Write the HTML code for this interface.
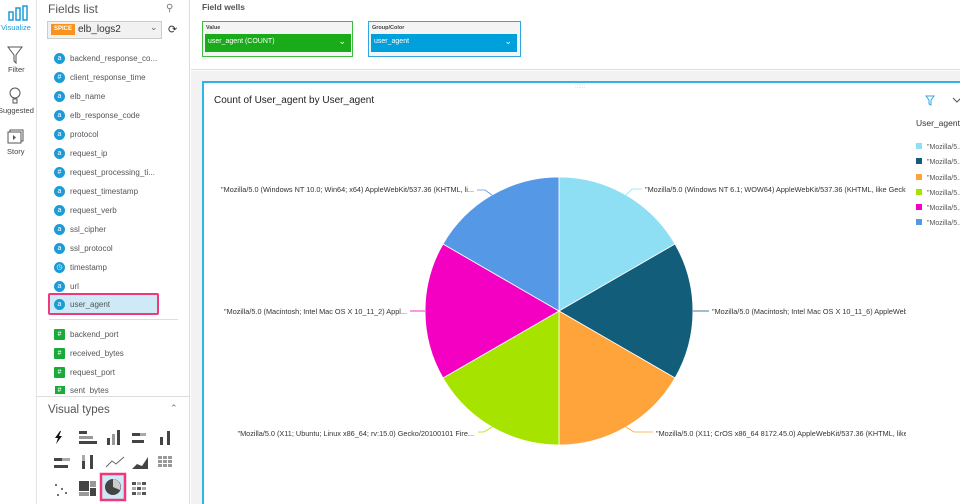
<!DOCTYPE html>
<html style="width:960px;height:504px;overflow:hidden"><head><meta charset="utf-8"><style>
*{margin:0;padding:0;box-sizing:border-box}
body{width:960px;height:504px;overflow:hidden;background:#fff;font-family:"Liberation Sans",sans-serif;position:relative;color:#333}
.abs{position:absolute}
.f{position:absolute;left:55px;width:120px;height:12px;font-size:8px;color:#555;white-space:nowrap}
.f i{position:absolute;left:-1px;top:-1px;width:11px;height:11px;border-radius:50%;background:#1d9bd7;color:#fff;font-size:7px;font-style:normal;text-align:center;line-height:11px}
.f span{position:absolute;left:15px;top:0}
.g i{border-radius:1px;background:#1aaa3a}
.lg div{white-space:nowrap;height:15.3px}
</style></head><body>
<div class="abs" style="left:0;top:0;width:37px;height:504px;background:#fff;border-right:1px solid #e3e3e3"></div>
<svg class="abs" style="left:8px;top:5px" width="20" height="16"><rect x="1" y="7" width="4" height="8" fill="none" stroke="#1d9bd7" stroke-width="1.5"/><rect x="8" y="3" width="4" height="12" fill="none" stroke="#1d9bd7" stroke-width="1.5"/><rect x="15" y="1" width="4" height="14" fill="none" stroke="#1d9bd7" stroke-width="1.5"/></svg>
<div class="abs" style="left:1px;top:23px;font-size:7.5px;color:#1d9bd7">Visualize</div>
<svg class="abs" style="left:7px;top:46px" width="16" height="18"><path d="M1 1 H15 L9 9 V17 L7 15 V9 Z" fill="none" stroke="#555"/></svg>
<div class="abs" style="left:8px;top:65px;font-size:7.5px;color:#444">Filter</div>
<svg class="abs" style="left:9px;top:87px" width="12" height="18"><circle cx="6" cy="6" r="5" fill="none" stroke="#555"/><rect x="4" y="12" width="4" height="4" fill="none" stroke="#555"/></svg>
<div class="abs" style="left:-2px;top:106px;font-size:7.5px;color:#444">Suggested</div>
<svg class="abs" style="left:7px;top:129px" width="18" height="15"><rect x="3" y="1" width="13" height="11" fill="none" stroke="#555"/><rect x="1" y="3" width="13" height="11" fill="#fff" stroke="#555"/><path d="M6 6 L9 8.5 L6 11Z" fill="#555"/></svg>
<div class="abs" style="left:7px;top:147px;font-size:7.5px;color:#444">Story</div>
<div class="abs" style="left:37px;top:0;width:153px;height:504px;background:#fff;border-right:1px solid #ddd"></div>
<div class="abs" style="left:48px;top:2px;font-size:12px;color:#555">Fields list</div>
<div class="abs" style="left:166px;top:3px;font-size:10px;color:#777">&#9906;</div>
<div class="abs" style="left:47px;top:21px;width:115px;height:18px;background:#f1f1f1;border:1px solid #ccc"></div>
<div class="abs" style="left:51px;top:24px;width:24px;height:11px;background:#f7931e;color:#fff;font-size:6px;font-weight:bold;text-align:center;line-height:11px">SPICE</div>
<div class="abs" style="left:78px;top:24px;font-size:10px;color:#333">elb_logs2</div>
<div class="abs" style="left:150px;top:22px;font-size:9px;color:#666">&#8964;</div>
<div class="abs" style="left:168px;top:23px;font-size:11px;color:#333">&#10227;</div>
<div class="f" style="top:54px"><i>a</i><span>backend_response_co...</span></div>
<div class="f" style="top:73px"><i>#</i><span>client_response_time</span></div>
<div class="f" style="top:92px"><i>a</i><span>elb_name</span></div>
<div class="f" style="top:111px"><i>a</i><span>elb_response_code</span></div>
<div class="f" style="top:130px"><i>a</i><span>protocol</span></div>
<div class="f" style="top:149px"><i>a</i><span>request_ip</span></div>
<div class="f" style="top:168px"><i>#</i><span>request_processing_ti...</span></div>
<div class="f" style="top:187px"><i>a</i><span>request_timestamp</span></div>
<div class="f" style="top:206px"><i>a</i><span>request_verb</span></div>
<div class="f" style="top:225px"><i>a</i><span>ssl_cipher</span></div>
<div class="f" style="top:244px"><i>a</i><span>ssl_protocol</span></div>
<div class="f" style="top:263px"><i>&#9719;</i><span>timestamp</span></div>
<div class="f" style="top:282px"><i>a</i><span>url</span></div>
<div class="abs" style="left:48px;top:293px;width:111px;height:22px;border:2px solid #f0397a;border-radius:2px;background:#cdeaf6"></div>
<div class="f" style="top:300px"><i>a</i><span>user_agent</span></div>
<div class="abs" style="left:49px;top:319px;width:129px;height:1px;background:#ddd"></div>
<div class="f g" style="top:330px"><i>#</i><span>backend_port</span></div>
<div class="f g" style="top:349px"><i>#</i><span>received_bytes</span></div>
<div class="f g" style="top:368px"><i>#</i><span>request_port</span></div>
<div class="f g" style="top:386px;height:8px;overflow:hidden"><i>#</i><span>sent_bytes</span></div>
<div class="abs" style="left:37px;top:396px;width:153px;height:1px;background:#ddd"></div>
<div class="abs" style="left:48px;top:404px;font-size:11.5px;color:#555">Visual types</div>
<div class="abs" style="left:170px;top:403px;font-size:9px;color:#777">&#8963;</div>
<svg class="abs" style="left:52px;top:427px" width="130" height="77">
<g fill="#444">
<path d="M8 4 L3 11 H6 L4 17 L10 9 H7 L9 4Z" fill="#111"/>
<rect x="27" y="4" width="8" height="3"/><rect x="27" y="9" width="14" height="3" fill="#999"/><rect x="27" y="14" width="18" height="3"/>
<rect x="55" y="11" width="3" height="7"/><rect x="60" y="7" width="3" height="11" fill="#999"/><rect x="65" y="3" width="3" height="15"/>
<rect x="80" y="6" width="8" height="3"/><rect x="80" y="13" width="12" height="3"/><rect x="88" y="6" width="6" height="3" fill="#aaa"/>
<rect x="108" y="10" width="3" height="8"/><rect x="115" y="4" width="3" height="14"/>
<rect x="2" y="31" width="8" height="3"/><rect x="2" y="38" width="14" height="3"/><rect x="10" y="31" width="8" height="3" fill="#aaa"/>
<rect x="30" y="28" width="3" height="14" fill="#aaa"/><rect x="30" y="34" width="3" height="8"/><rect x="38" y="28" width="3" height="14"/>
<path d="M54 40 L60 34 L64 37 L72 30" stroke="#666" fill="none"/>
<path d="M80 42 L85 37 L90 39 L96 30 L96 42Z"/>
<g fill="#999"><rect x="106" y="29" width="4" height="3"/><rect x="111" y="29" width="4" height="3"/><rect x="116" y="29" width="4" height="3"/><rect x="106" y="33" width="4" height="3"/><rect x="111" y="33" width="4" height="3"/><rect x="116" y="33" width="4" height="3"/><rect x="106" y="37" width="4" height="3"/><rect x="111" y="37" width="4" height="3"/><rect x="116" y="37" width="4" height="3"/></g>
<circle cx="4" cy="58" r="1"/><circle cx="10" cy="62" r="1"/><circle cx="6" cy="68" r="1"/><circle cx="14" cy="66" r="1"/>
<rect x="27" y="54" width="10" height="10"/><rect x="38" y="54" width="6" height="6" fill="#999"/><rect x="38" y="61" width="6" height="8"/><rect x="27" y="65" width="10" height="4" fill="#999"/>
<g fill="#555"><rect x="80" y="55" width="4" height="3"/><rect x="85" y="55" width="4" height="3" fill="#aaa"/><rect x="90" y="55" width="4" height="3"/><rect x="80" y="60" width="4" height="3" fill="#aaa"/><rect x="85" y="60" width="4" height="3"/><rect x="90" y="60" width="4" height="3" fill="#aaa"/><rect x="80" y="65" width="4" height="3"/><rect x="85" y="65" width="4" height="3" fill="#aaa"/><rect x="90" y="65" width="4" height="3"/></g>
</g>
<rect x="49" y="47" width="24" height="26" fill="#cdeaf6" stroke="#f0397a" stroke-width="2.5"/>
<circle cx="61" cy="60" r="8" fill="#444"/><path d="M61 60 V52 A8 8 0 0 1 68 63Z" fill="#ccc"/>
</svg>
<div class="abs" style="left:191px;top:0;width:769px;height:70px;background:#fff;border-bottom:1px solid #ddd"></div>
<div class="abs" style="left:202px;top:2px;font-size:8.5px;font-weight:bold;color:#555">Field wells</div>
<div class="abs" style="left:202px;top:21px;width:151px;height:36px;background:#f4f4f4;border:1px solid #3fbb3f"></div>
<div class="abs" style="left:206px;top:25px;font-size:5.5px;font-weight:bold;color:#444">Value</div>
<div class="abs" style="left:205px;top:34px;width:146px;height:18px;background:#1aab1a;color:#fff;font-size:7px;padding:4px 3px">user_agent (COUNT)<span style="position:absolute;right:5px;top:2px;font-size:9px">&#8964;</span></div>
<div class="abs" style="left:368px;top:21px;width:153px;height:36px;background:#f4f4f4;border:1px solid #2fa8df"></div>
<div class="abs" style="left:372px;top:25px;font-size:5.5px;font-weight:bold;color:#444">Group/Color</div>
<div class="abs" style="left:371px;top:34px;width:146px;height:18px;background:#00a0dc;color:#fff;font-size:7px;padding:4px 3px">user_agent<span style="position:absolute;right:5px;top:2px;font-size:9px">&#8964;</span></div>
<div class="abs" style="left:191px;top:71px;width:769px;height:433px;background:#f2f2f2"></div>
<div class="abs" style="left:202px;top:81px;width:770px;height:440px;background:#fff;border:2px solid #2fb4e9"></div>
<div class="abs" style="left:214px;top:95px;font-size:10px;color:#222">Count of User_agent by User_agent</div>
<svg class="abs" style="left:925px;top:95px" width="35" height="12"><path d="M1 1 H9 L6 5 V10 L4 9 V5Z" fill="none" stroke="#2fa8df"/><path d="M28 3 L32 7 L36 3" fill="none" stroke="#555"/></svg>
<svg class="abs" style="left:0;top:0" width="960" height="504" font-family="Liberation Sans, sans-serif" font-size="7.3" fill="#333">
<defs><clipPath id="c"><rect x="0" y="0" width="906" height="504"/></clipPath></defs>
<g stroke="#fff" stroke-width="0.8">
<path d="M559 311 L559 177 A134 134 0 0 1 675 244Z" fill="#8fdff4"/>
<path d="M559 311 L675 244 A134 134 0 0 1 675 378Z" fill="#125e7a"/>
<path d="M559 311 L675 378 A134 134 0 0 1 559 445Z" fill="#ffa33b"/>
<path d="M559 311 L559 445 A134 134 0 0 1 443 378Z" fill="#a6e400"/>
<path d="M559 311 L443 378 A134 134 0 0 1 443 244Z" fill="#f400c2"/>
<path d="M559 311 L443 244 A134 134 0 0 1 559 177Z" fill="#5599e6"/>
</g>
<g fill="none" stroke-width="0.8">
<path d="M626 195 L632 189 H642" stroke="#8fdff4"/>
<path d="M693 311 H709" stroke="#125e7a"/>
<path d="M626 427 L634 432 H653" stroke="#ffa33b"/>
<path d="M492 427 L484 432 H478" stroke="#a6e400"/>
<path d="M425 311 H410" stroke="#f400c2"/>
<path d="M492 195 L485 190 H477" stroke="#5599e6"/>
</g>
<g clip-path="url(#c)">
<text x="645" y="192">"Mozilla/5.0 (Windows NT 6.1; WOW64) AppleWebKit/537.36 (KHTML, like Gecko)</text>
<text x="712" y="314">"Mozilla/5.0 (Macintosh; Intel Mac OS X 10_11_6) AppleWebKit/537.36 (KHTML, like Gecko)</text>
<text x="656" y="436">"Mozilla/5.0 (X11; CrOS x86_64 8172.45.0) AppleWebKit/537.36 (KHTML, like Gecko)</text>
</g>
<text x="474" y="436" text-anchor="end">"Mozilla/5.0 (X11; Ubuntu; Linux x86_64; rv:15.0) Gecko/20100101 Fire...</text>
<text x="407" y="314" text-anchor="end">"Mozilla/5.0 (Macintosh; Intel Mac OS X 10_11_2) Appl...</text>
<text x="474" y="192" text-anchor="end">"Mozilla/5.0 (Windows NT 10.0; Win64; x64) AppleWebKit/537.36 (KHTML, li...</text>
</svg>
<div class="abs" style="left:916px;top:118px;font-size:8.5px;color:#333;white-space:nowrap">User_agent</div>
<div class="abs lg" style="left:916px;top:140px;width:44px;overflow:hidden;font-size:7px;color:#555;line-height:15.3px">
<div><b style="display:inline-block;width:6px;height:6px;background:#8fdff4;margin-right:5px"></b>"Mozilla/5...</div>
<div><b style="display:inline-block;width:6px;height:6px;background:#125e7a;margin-right:5px"></b>"Mozilla/5...</div>
<div><b style="display:inline-block;width:6px;height:6px;background:#ffa33b;margin-right:5px"></b>"Mozilla/5...</div>
<div><b style="display:inline-block;width:6px;height:6px;background:#a6e400;margin-right:5px"></b>"Mozilla/5...</div>
<div><b style="display:inline-block;width:6px;height:6px;background:#f400c2;margin-right:5px"></b>"Mozilla/5...</div>
<div><b style="display:inline-block;width:6px;height:6px;background:#5599e6;margin-right:5px"></b>"Mozilla/5...</div>
</div>
<div class="abs" style="left:575px;top:84px;font-size:6px;color:#bbb">::::::</div>
</body></html>
